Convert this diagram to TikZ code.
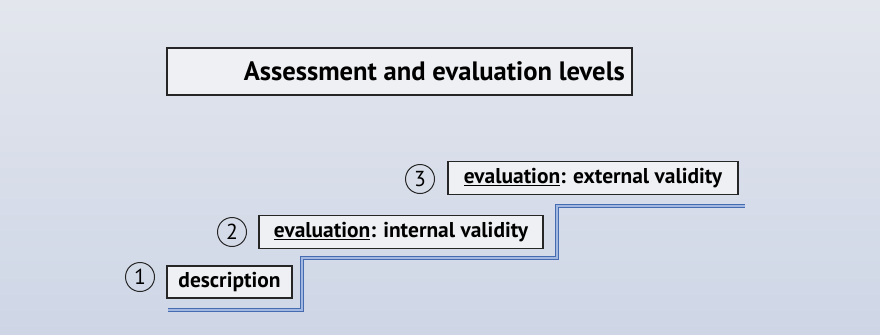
\documentclass[tikz,border=0pt]{standalone}
\usepackage{fontspec}
\setmainfont{PT Sans}
\definecolor{pagetop}{HTML}{E3E6ED}
\definecolor{pagebottom}{HTML}{CED6E6}
\definecolor{boxfill}{HTML}{EFF0F3}
\definecolor{stairblue}{HTML}{456BB0}
\definecolor{stairlight}{HTML}{A3B8E0}
\begin{document}
\begin{tikzpicture}[x=0.3mm, y=-0.3mm,
    levelbox/.style={draw=black!85, fill=boxfill, line width=0.35mm, inner sep=0pt,
        minimum height=10mm, font=\fontsize{18.3}{22}\selectfont\bfseries},
    stepnum/.style={circle, draw=black!85, line width=0.3mm, minimum size=8.7mm,
        inner sep=0pt, font=\fontsize{18.5}{22}\selectfont},
    stairline/.style={draw=stairblue, double=stairlight, line width=0.4mm,
        double distance=0.45mm, line join=miter}]
    % Background
    \shade[top color=pagetop, bottom color=pagebottom] (0,0) rectangle (880,334);
    \useasboundingbox (0,0) rectangle (880,334);
    
    % Define title
    \node[draw=black!85, fill=boxfill, line width=0.4mm, minimum width=139.5mm,
        minimum height=14.1mm, inner sep=0pt] (title) at (399.5,71.5) {};
    \node[font=\fontsize{22.7}{27}\selectfont\bfseries, anchor=east, inner sep=0pt]
        (titletext) at (625,71.5) {Assessment and evaluation levels};
    
    % Define levels
    \node[levelbox, minimum width=37.5mm, minimum height=9.6mm] (desc) at (229.5,282) {description};
    \node[levelbox, minimum width=85.2mm] (internal) at (401,232) {\underline{evaluation}: internal validity};
    \node[levelbox, minimum width=87mm] (external) at (593,178) {\underline{evaluation}: external validity};
    
    % Define numbers
    \node[stepnum] (n1) at (140,277) {1};
    \node[stepnum] (n2) at (232,232) {2};
    \node[stepnum] (n3) at (420,179) {3};
    
    % Define stair corners
    \coordinate (s0) at (168,310);
    \coordinate (s1) at (302,310);
    \coordinate (s2) at (302,258);
    \coordinate (s3) at (557,258);
    \coordinate (s4) at (557,206);
    \coordinate (s5) at (745,206);
    
    % Draw stair
    \draw[stairline] (s0) -- (s1) -- (s2) -- (s3) -- (s4) -- (s5);
\end{tikzpicture}
\end{document}
